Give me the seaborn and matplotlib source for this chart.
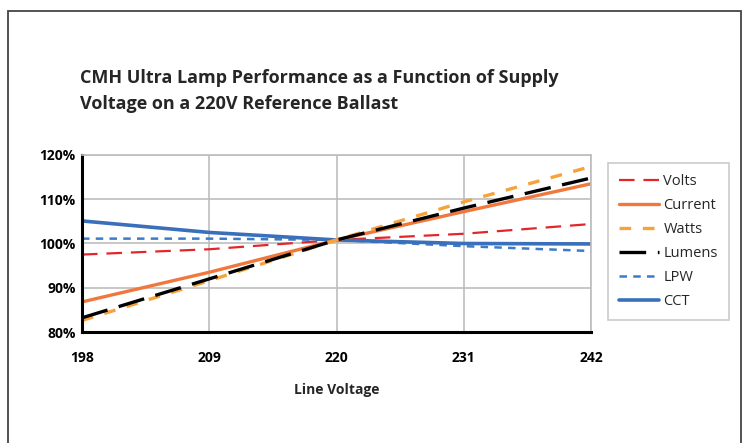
import matplotlib
matplotlib.use("Agg")
import matplotlib.pyplot as plt
import seaborn as sns
import pandas as pd
from matplotlib.patches import Rectangle

voltages = [198, 209, 220, 231, 242]
volts = [97.5, 98.7, 100.8, 102.2, 104.4]
current = [86.8, 93.5, 100.8, 107.2, 113.5]
watts = [82.6, 91.6, 100.8, 109.4, 117.4]
lumens = [83.2, 92.0, 100.8, 108.0, 114.8]
lpw = [101.1, 101.1, 100.8, 99.4, 98.3]
cct = [105.1, 102.5, 100.8, 100.0, 99.9]
y_ticks = [80, 90, 100, 110, 120]
y_tick_labels = ["80%", "90%", "100%", "110%", "120%"]

sns.set_theme(style="white")
plt.rcParams['font.family'] = ['Open Sans', 'DejaVu Sans']

fig = plt.figure(figsize=(7.43, 4.43), dpi=100)
ax = fig.add_axes([82/743, 1-332/443, (591-82)/743, (332-155)/443])

series = [
    ("Volts", volts, "#e3262b", 1.6, (0, (7, 4))),
    ("Current", current, "#f0783c", 2.4, "-"),
    ("Watts", watts, "#f7a33a", 2.4, (0, (3.5, 3.5))),
    ("Lumens", lumens, "#000000", 2.4, (0, (8, 3.5))),
    ("LPW", lpw, "#3c7bc8", 1.8, (0, (3, 2.5))),
    ("CCT", cct, "#3a6fba", 2.6, "-"),
]
draw_order = ["Volts", "LPW", "CCT", "Current", "Watts", "Lumens"]
handles = {}
for name in draw_order:
    n, vals, col, lw, ls = [s for s in series if s[0] == name][0]
    df = pd.DataFrame({"v": voltages, "p": vals})
    sns.lineplot(data=df, x="v", y="p", ax=ax, color=col, linewidth=lw,
                 linestyle=ls, label=n, legend=False)
    handles[n] = ax.lines[-1]

ax.set_xlim(198, 242)
ax.set_ylim(80, 120)
ax.set_xticks(voltages)
ax.set_xticklabels([str(v) for v in voltages], fontsize=10, fontweight="bold")
ax.set_yticks(y_ticks)
ax.set_yticklabels(y_tick_labels, fontsize=10, fontweight="bold")
ax.grid(True, color="#bdbdbd", linewidth=1.2)
ax.set_axisbelow(True)
for s in ["top", "right"]:
    ax.spines[s].set_color("#bdbdbd")
    ax.spines[s].set_linewidth(1.2)
for s in ["left", "bottom"]:
    ax.spines[s].set_color("black")
    ax.spines[s].set_linewidth(2.2)
ax.tick_params(axis="both", which="major", direction="inout", length=7, width=2,
               color="black", labelcolor="black")
ax.tick_params(axis="x", pad=10)
ax.tick_params(axis="y", pad=1)
ax.set_xlabel("Line Voltage", fontsize=10, fontweight="bold", labelpad=13)
ax.set_ylabel("")

leg = ax.legend([handles[s[0]] for s in series], [s[0] for s in series],
                loc="upper left", bbox_to_anchor=(608/743, 1-163/443),
                bbox_transform=fig.transFigure, frameon=True, fancybox=False,
                fontsize=10.5, handlelength=2.75, handletextpad=0.3,
                labelspacing=0.62, borderpad=0.75, borderaxespad=0)
leg.get_frame().set_edgecolor("#bdbdbd")
leg.get_frame().set_linewidth(1.2)

fig.text(80/743, 1-69/443, "CMH Ultra Lamp Performance as a Function of Supply\nVoltage on a 220V Reference Ballast",
         fontsize=13, fontweight="bold", va="top", ha="left", linespacing=1.55)

fig.patches.append(Rectangle((8/743, -0.05), (741-8)/743, 1.05-11/443,
                             transform=fig.transFigure, fill=False,
                             edgecolor="#444444", linewidth=1.3))

fig.savefig("out.png", dpi=100)
